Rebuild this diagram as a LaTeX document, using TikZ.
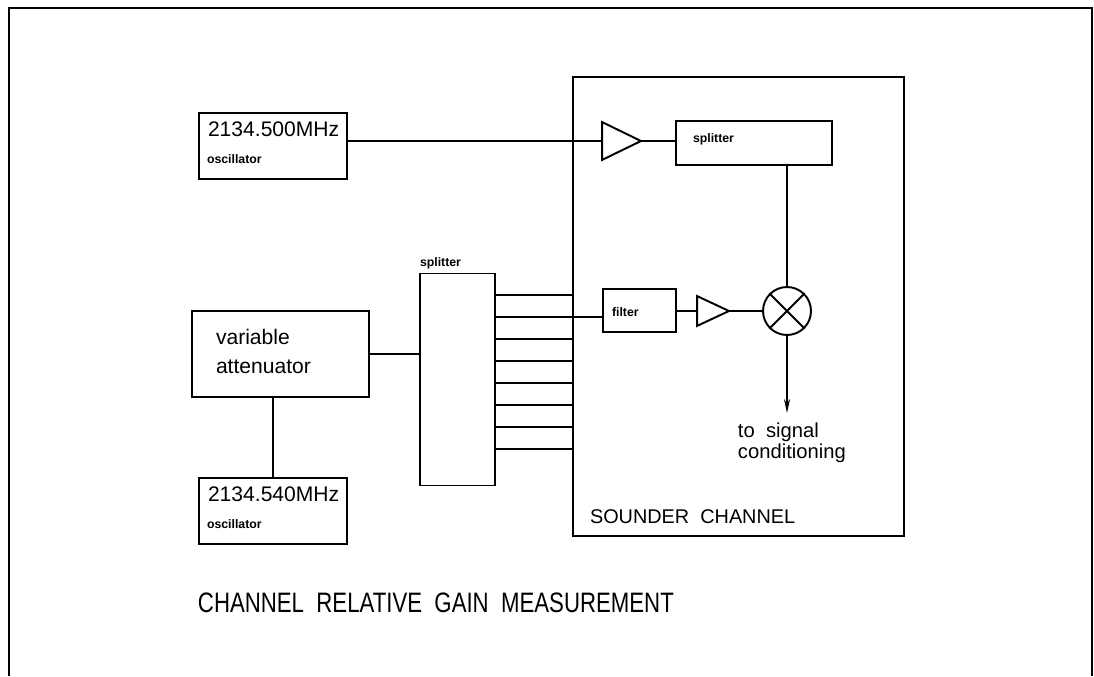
\documentclass[tikz,border=0pt]{standalone}
\usepackage{fontspec}
\setmainfont{Liberation Sans}
\newfontfamily\TitleFont[FakeStretch=0.79]{Liberation Sans}
\usetikzlibrary{arrows.meta,calc}

\begin{document}
\begin{tikzpicture}[x=0.02cm,y=-0.02cm,line width=1.1pt,
  Box/.style={draw,rectangle,inner sep=0pt},
  Amp/.style={rectangle,inner sep=0pt},
  BigLbl/.style={inner sep=0pt,font=\fontsize{12}{14}\selectfont},
  SmallLbl/.style={inner sep=0pt,font=\fontsize{7}{8}\selectfont\bfseries}]
\useasboundingbox (0,0) rectangle (1094,676);

% Outer frame (open at the bottom).
\draw (9,676) -- (9,8) -- (1092,8) -- (1092,676);

% Sounder channel and what sits inside it.
\node[Box,minimum width=6.62cm,minimum height=9.18cm] (snd) at (738.5,306.5) {};
\node[Amp,minimum width=0.74cm,minimum height=0.72cm] (amp1) at (621.5,141) {};
\node[Box,minimum width=3.12cm,minimum height=0.88cm] (splitT) at (754,143) {};
\node[Box,minimum width=1.46cm,minimum height=0.86cm] (filt) at (639.5,310.5) {};
\node[Amp,minimum width=0.6cm,minimum height=0.56cm] (amp2) at (713,311) {};
\node[draw,circle,inner sep=0pt,minimum size=0.96cm] (mix) at (787,311) {};
\coordinate (out) at ($(mix.south)+(0,77)$);

% The two amplifier triangles and the mixer cross.
\foreach \a in {amp1,amp2}
  \draw (\a.north west) -- (\a.east) -- (\a.south west) -- cycle;
\draw (mix.45) -- (mix.225) (mix.135) -- (mix.315);

% Sources, attenuator and the 8-way splitter.
\node[Box,minimum width=2.96cm,minimum height=1.32cm] (osc1) at (273,146) {};
\node[Box,minimum width=3.54cm,minimum height=1.72cm] (att) at (280.5,354) {};
\node[Box,minimum width=2.96cm,minimum height=1.32cm] (osc2) at (273,511) {};
\node[Box,minimum width=1.5cm,minimum height=4.24cm] (splitL) at (457.5,379.5) {};

% Labels.
\node[BigLbl,anchor=base west] (osc1f) at ($(osc1.north west)+(9,24)$) {2134.500MHz};
\node[SmallLbl,anchor=base west] (osc1n) at ($(osc1.north west)+(8,51)$) {oscillator};
\node[BigLbl,anchor=base west] (osc2f) at ($(osc2.north west)+(9,24)$) {2134.540MHz};
\node[SmallLbl,anchor=base west] (osc2n) at ($(osc2.north west)+(8,51)$) {oscillator};
\node[BigLbl,anchor=north west,align=left,font=\fontsize{12}{16.4}\selectfont] (attl) at ($(att.north west)+(24,18)$) {variable\\attenuator};
\node[SmallLbl,anchor=base west] (splitLl) at ($(splitL.north west)+(0,-6)$) {splitter};
\node[SmallLbl,anchor=base west] (splitTl) at ($(splitT.north west)+(17,22)$) {splitter};
\node[SmallLbl,anchor=base west] (filtl) at ($(filt.north west)+(9,28)$) {filter};
\node[BigLbl,anchor=north west,align=left,font=\fontsize{11.5}{12}\selectfont] (outl) at ($(out)+(-50,9)$) {to\ \ signal\\conditioning};
\node[BigLbl,anchor=base west,font=\fontsize{11.3}{13}\selectfont] (sndl) at ($(snd.south west)+(17,-13)$) {SOUNDER\ \ CHANNEL};
\node[inner sep=0pt,anchor=base west,font=\fontsize{16}{18}\selectfont\TitleFont] (title) at (197,612) {CHANNEL\ \ RELATIVE\ \ GAIN\ \ MEASUREMENT};

% Connections.
\draw (osc1.east |- amp1.west) -- (amp1.west);
\draw (amp1.east) -- (splitT.west |- amp1.east);
\draw (mix.north |- splitT.south) -- (mix.north);
\draw (filt.east |- amp2.west) -- (amp2.west);
\draw (amp2.east) -- (mix.west);
\draw[-{Stealth[length=8pt,width=3.5pt]}] (mix.south) -- (out);
\draw (att.east) -- (splitL.west |- att.east);
\draw (osc2.north) -- (osc2.north |- att.south);

% Eight splitter outputs into the sounder, the second one on to the filter.
\foreach \k in {0,...,7}{
  \coordinate (o\k) at ($(splitL.north east)+(0,22+22*\k)$);
  \draw (o\k) -- (o\k -| snd.west);
}
\draw (o1 -| snd.west) -- (o1 -| filt.west);

\end{tikzpicture}
\end{document}
